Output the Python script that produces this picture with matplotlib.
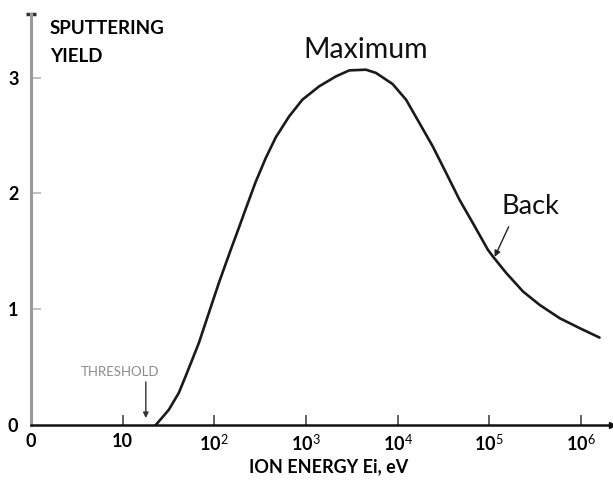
import numpy as np
import matplotlib
matplotlib.use('Agg')
import matplotlib.pyplot as plt

plt.rcParams['font.family'] = ['Lato', 'DejaVu Sans']
plt.rcParams['mathtext.fontset'] = 'custom'
plt.rcParams['mathtext.rm'] = 'Lato'
plt.rcParams['mathtext.bf'] = 'Lato:bold'
plt.rcParams['mathtext.it'] = 'Lato:italic'

# sputtering yield curve
energy_ev = [23.0, 31.8, 41.0, 48.5, 57.3, 67.9, 80.3, 94.9, 112.3, 132.9,
             150.7, 185.8, 219.9, 283, 364, 469, 655, 915, 1394, 2123, 2972,
             4518, 5817, 8832, 12380, 17330, 24230, 33950, 47430, 66340,
             96830, 109900, 153800, 233900, 355800, 588800, 974600, 1600000]
sputter_yield = [0.0, 0.130, 0.277, 0.418, 0.562, 0.709, 0.882, 1.055, 1.228,
                 1.390, 1.510, 1.705, 1.865, 2.100, 2.305, 2.485, 2.665, 2.810,
                 2.925, 3.011, 3.063, 3.069, 3.041, 2.945, 2.810, 2.608, 2.406,
                 2.176, 1.945, 1.744, 1.513, 1.455, 1.312, 1.153, 1.037, 0.922,
                 0.836, 0.755]

x_ticks = [1, 10, 1e2, 1e3, 1e4, 1e5, 1e6]
x_tick_labels = ['0', '10', r'$\mathbf{10}^{2}$', r'$\mathbf{10}^{3}$',
                 r'$\mathbf{10}^{4}$', r'$\mathbf{10}^{5}$', r'$\mathbf{10}^{6}$']
y_ticks = [0, 1, 2, 3]

fig = plt.figure(figsize=(6.13, 4.82), dpi=100)
ax = fig.add_axes([31 / 613, 1 - 425 / 482, 581 / 613, 411 / 482])

ax.plot(energy_ev, sputter_yield, color='#1a1a1a', lw=1.9,
        solid_capstyle='round', solid_joinstyle='round')

ax.set_xscale('log')
ax.set_xlim(1, 10 ** 6.34)
ax.set_ylim(0, 3.55)

ax.set_xticks(x_ticks)
ax.set_xticklabels(x_tick_labels)
ax.xaxis.set_minor_locator(matplotlib.ticker.NullLocator())
ax.set_yticks(y_ticks)
ax.set_yticklabels([str(v) for v in y_ticks])

for lab in ax.get_xticklabels() + ax.get_yticklabels():
    lab.set_fontweight('bold')
    lab.set_fontsize(13)

ax.tick_params(axis='x', direction='in', length=7, width=1.3, color='#555555', pad=6)
ax.tick_params(axis='y', direction='in', length=7, width=1.3, color='#bbbbbb', pad=9)
ax.yaxis.get_major_ticks()[0].tick1line.set_visible(False)
ax.xaxis.get_major_ticks()[0].tick1line.set_visible(False)

for s in ['top', 'right']:
    ax.spines[s].set_visible(False)
ax.spines['left'].set_color('#9a9a9a')
ax.spines['left'].set_linewidth(2.2)
ax.spines['bottom'].set_color('#111111')
ax.spines['bottom'].set_linewidth(1.8)

# little end marks on the axes
ax.plot(0, 1, marker='_', color='#333333', ms=7, mew=2.5,
        transform=ax.transAxes, clip_on=False)
ax.plot(1, 0, marker='>', color='#111111', ms=4,
        transform=ax.transAxes, clip_on=False)

# annotations
ax.text(4446, 3.242, 'Maximum', fontsize=20.5, ha='center', va='center', color='#111111')
ax.text(283800, 1.885, 'Back', fontsize=19.5, ha='center', va='center', color='#111111')
ax.annotate('', xy=(114600, 1.452), xytext=(163000, 1.712),
            arrowprops=dict(arrowstyle='-|>', color='#222222', lw=1.0,
                            mutation_scale=9, shrinkA=0, shrinkB=0))
ax.text(9.27, 0.458, 'THRESHOLD', fontsize=9.5, ha='center', va='center',
        color='#8c8c8c')
ax.annotate('', xy=(17.9, 0.06), xytext=(17.9, 0.372),
            arrowprops=dict(arrowstyle='-|>', color='#333333', lw=1.0,
                            mutation_scale=8, shrinkA=0, shrinkB=0))

fig.text(50 / 613, 1 - 29 / 482, 'SPUTTERING', fontsize=13.5, fontweight='bold',
         ha='left', va='center')
fig.text(50 / 613, 1 - 57 / 482, 'YIELD', fontsize=13.5, fontweight='bold',
         ha='left', va='center')
fig.text(329 / 613, 1 - 467 / 482, 'ION ENERGY Ei, eV', fontsize=13,
         fontweight='bold', ha='center', va='center')

fig.savefig('out.png', dpi=100)
